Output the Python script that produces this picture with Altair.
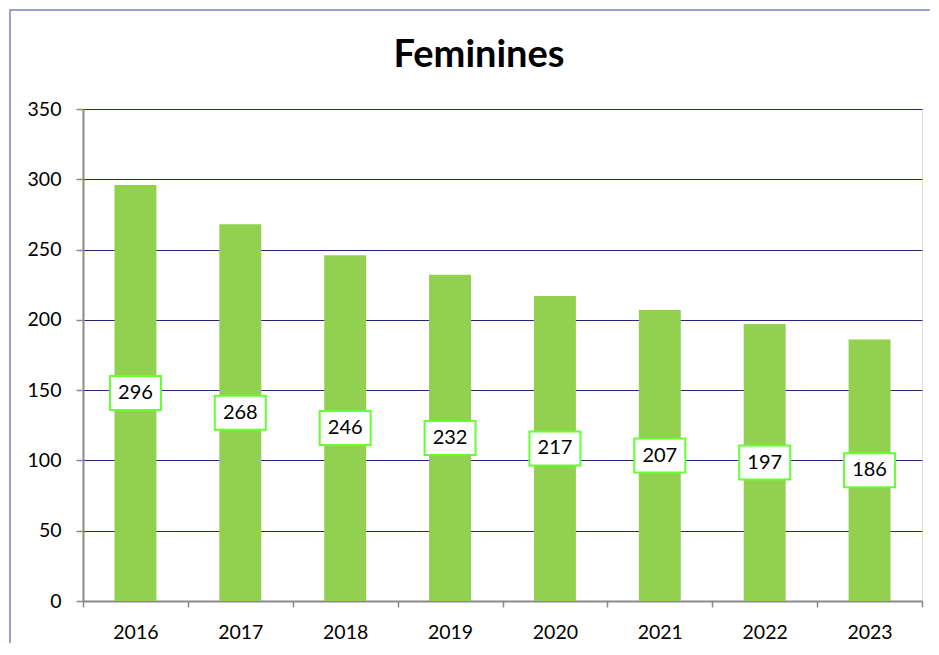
import altair as alt
import pandas as pd

years = ["2016", "2017", "2018", "2019", "2020", "2021", "2022", "2023"]
values = [296, 268, 246, 232, 217, 207, 197, 186]
y_ticks = [0, 50, 100, 150, 200, 250, 300, 350]
title_text = "Feminines"

df = pd.DataFrame({"year": years, "value": values})

FONT = "Lato"
NAVY = "#262680"
GREY = "#8a8a8a"
BAR = "#92D050"
LBL_BORDER = "#66FF33"

x_enc = alt.X(
    "year:N",
    sort=years,
    title=None,
    scale=alt.Scale(paddingInner=0, paddingOuter=0),
    axis=alt.Axis(
        labelAngle=0, labelFont=FONT, labelFontSize=19.5, labelColor="#000000",
        domainColor=GREY, domainWidth=2, tickColor=GREY, tickWidth=1.5, tickSize=6,
        tickBand="extent", labelPadding=16, grid=False,
    ),
)
y_enc = alt.Y(
    "value:Q",
    title=None,
    scale=alt.Scale(domain=[0, 350], nice=False),
    axis=alt.Axis(
        values=y_ticks, labelFont=FONT, labelFontSize=19.5, labelColor="#000000",
        domainColor=GREY, domainWidth=2, tickColor=GREY, tickWidth=1.5, tickSize=7,
        labelPadding=15, grid=True, gridColor=NAVY, gridWidth=1,
    ),
)

frame = alt.Chart(pd.DataFrame({"a": [0]})).mark_rect(
    fill="transparent", stroke="#8080C0", strokeWidth=1.5, clip=False
).encode(
    x=alt.value(-73), x2=alt.value(1100), y=alt.value(-99), y2=alt.value(900)
)

title = alt.Chart(pd.DataFrame({"t": [title_text]})).mark_text(
    font=FONT, fontSize=38, fontWeight="bold", color="#000000",
    align="center", baseline="alphabetic", clip=False
).encode(
    x=alt.value(396), y=alt.value(-42), text="t:N"
)

bars = alt.Chart(df).mark_bar(color=BAR, width=alt.RelativeBandSize(0.4)).encode(
    x=x_enc, y=y_enc
)

boxes = alt.Chart(df).transform_calculate(mid="datum.value / 2").mark_point(
    shape="M-1.5,-1H1.5V1H-1.5Z", size=1156, filled=True, fill="white",
    stroke=LBL_BORDER, strokeWidth=2, opacity=1
).encode(
    x=alt.X("year:N", sort=years),
    y=alt.Y("mid:Q"),
)

labels = alt.Chart(df).transform_calculate(mid="datum.value / 2").mark_text(
    font=FONT, fontSize=20, color="#000000", baseline="middle", align="center"
).encode(
    x=alt.X("year:N", sort=years),
    y=alt.Y("mid:Q"),
    text=alt.Text("value:Q"),
)

chart = alt.layer(frame, title, bars, boxes, labels).properties(
    width=839,
    height=492,
    padding={"left": 75, "top": 101, "right": 8, "bottom": 42},
    autosize=alt.AutoSizeParams(type="none"),
).configure_view(
    stroke=NAVY, strokeWidth=2
).configure(background="white")

chart.save("out.html", embed_options={"renderer": "svg", "actions": False})
